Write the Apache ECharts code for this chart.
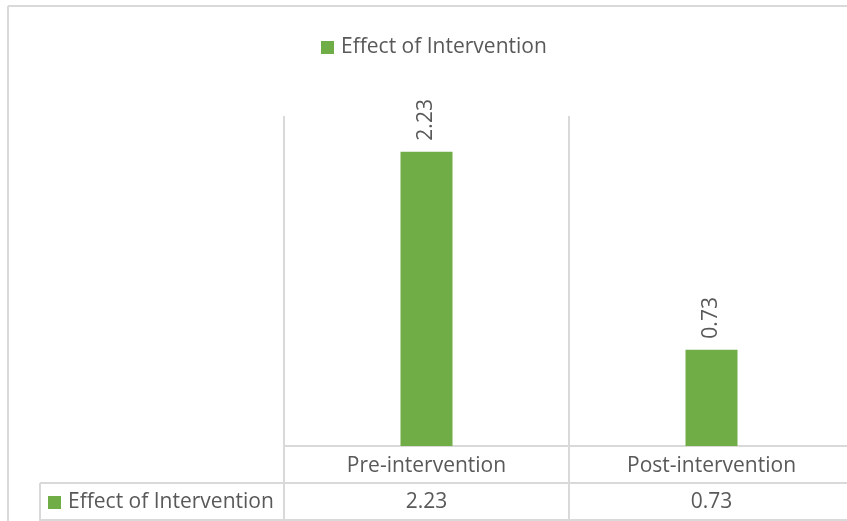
<!DOCTYPE html>
<html>
<head>
<meta charset="utf-8">
<script src="https://cdn.jsdelivr.net/npm/echarts@6/dist/echarts.min.js"></script>
<style>
    html, body { margin: 0; padding: 0; background: #ffffff; }
    #main { width: 847px; height: 521px; }
</style>
</head>
<body>
<div id="main"></div>
<script>
var categories = ['Pre-intervention', 'Post-intervention'];
var seriesName = 'Effect of Intervention';
var values = [2.23, 0.73];

var border = '#d9d9d9';
var txt = '#595959';
var green = '#70ad47';
var font = 'Open Sans';

var myChart = echarts.init(document.getElementById('main'));

var option = {
    backgroundColor: '#ffffff',
    textStyle: { fontFamily: font },
    legend: [
        {
            data: [seriesName],
            left: 316,
            top: 32,
            icon: 'rect',
            itemWidth: 13,
            itemHeight: 13,
            itemGap: 8,
            textStyle: { color: txt, fontSize: 21, fontFamily: font, padding: [0, 0, 0, 2] }
        },
        {
            data: [seriesName],
            left: 43,
            top: 487,
            icon: 'rect',
            itemWidth: 13,
            itemHeight: 13,
            itemGap: 8,
            selectedMode: false,
            textStyle: { color: txt, fontSize: 21, fontFamily: font, padding: [0, 0, 0, 2] }
        }
    ],
    grid: {
        left: 284,
        top: 116,
        width: 570,
        height: 330,
        outerBoundsMode: 'none'
    },
    xAxis: [
        {
            type: 'category',
            data: categories,
            position: 'bottom',
            axisLine: { lineStyle: { color: border, width: 2 } },
            axisTick: { show: true, length: 37, lineStyle: { color: border, width: 2 } },
            splitLine: { show: true, lineStyle: { color: border, width: 2 } },
            axisLabel: { color: txt, fontSize: 21, margin: 10 }
        },
        {
            type: 'category',
            data: categories,
            position: 'bottom',
            offset: 37,
            axisLine: { lineStyle: { color: border, width: 2 } },
            axisTick: { show: true, length: 37, lineStyle: { color: border, width: 2 } },
            axisLabel: {
                color: txt,
                fontSize: 21,
                margin: 9,
                formatter: function (v, i) {
                    return values[i].toFixed(2);
                }
            }
        }
    ],
    yAxis: {
        type: 'value',
        min: 0,
        max: 2.5,
        show: false
    },
    series: [
        {
            name: seriesName,
            type: 'bar',
            data: values,
            barWidth: 52,
            itemStyle: { color: green },
            label: {
                show: true,
                position: 'top',
                distance: 11,
                rotate: 90,
                align: 'left',
                verticalAlign: 'middle',
                color: txt,
                fontSize: 21,
                formatter: function (p) {
                    return p.value.toFixed(2);
                }
            }
        }
    ],
    graphic: [
        // outer chart frame
        { type: 'line', shape: { x1: 8, y1: 6, x2: 847, y2: 6 }, style: { stroke: border, lineWidth: 2 } },
        { type: 'line', shape: { x1: 8, y1: 6, x2: 8, y2: 521 }, style: { stroke: border, lineWidth: 2 } },
        // data table: legend-key column and bottom edge
        { type: 'line', shape: { x1: 40, y1: 483, x2: 284, y2: 483 }, style: { stroke: border, lineWidth: 2 } },
        { type: 'line', shape: { x1: 40, y1: 483, x2: 40, y2: 521 }, style: { stroke: border, lineWidth: 2 } },
        { type: 'line', shape: { x1: 40, y1: 520, x2: 847, y2: 520 }, style: { stroke: border, lineWidth: 2 } }
    ]
};

myChart.setOption(option);
</script>
</body>
</html>
